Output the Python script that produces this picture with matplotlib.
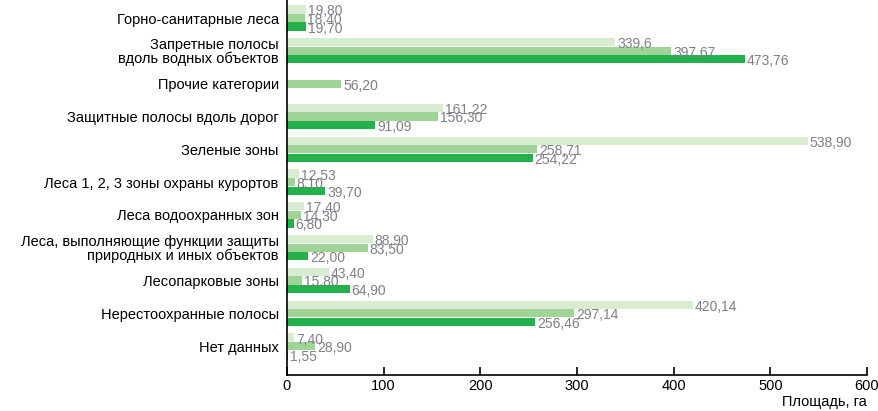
import matplotlib.pyplot as plt
import numpy as np

plt.rcParams['font.family'] = ['Liberation Sans', 'DejaVu Sans']

categories = [
    'Горно-санитарные леса',
    'Запретные полосы\nвдоль водных объектов',
    'Прочие категории',
    'Защитные полосы вдоль дорог',
    'Зеленые зоны',
    'Леса 1, 2, 3 зоны охраны курортов',
    'Леса водоохранных зон',
    'Леса, выполняющие функции защиты\nприродных и иных объектов',
    'Лесопарковые зоны',
    'Нерестоохранные полосы',
    'Нет данных',
]
series_light = [19.80, 339.6, None, 161.22, 538.90, 12.53, 17.40, 88.90, 43.40, 420.14, 7.40]
series_mid = [18.40, 397.67, 56.20, 156.30, 258.71, 8.10, 14.30, 83.50, 15.80, 297.14, 28.90]
series_dark = [19.70, 473.76, None, 91.09, 254.22, 39.70, 6.80, 22.00, 64.90, 256.46, 1.55]

colors = ['#d8ecd2', '#a0d497', '#22b14c']
label_color = '#7f7f86'


def fmt(v):
    if v == 339.6:
        return '339,6'
    return f'{v:.2f}'.replace('.', ',')


fig = plt.figure(figsize=(8.79, 4.11), dpi=100)
ax = fig.add_axes([287 / 879, 36 / 411, 580 / 879, 375 / 411])

y = np.arange(len(categories))
h = 0.25
offsets = [-0.26, 0.0, 0.26]
for series, off, col in zip([series_light, series_mid, series_dark], offsets, colors):
    for yi, v in zip(y, series):
        if v is None:
            continue
        ax.barh(yi + off, v, height=h, color=col)
        ax.text(v + 2, yi + off + 0.06, fmt(v), fontsize=10, color=label_color,
                va='center', ha='left')

ax.set_yticks(y)
ax.set_yticklabels(categories, fontsize=10.5, linespacing=0.95)
ax.tick_params(axis='y', length=0, pad=6)
ax.set_ylim(len(categories) - 1 + 0.88, -0.55)
ax.set_xlim(0, 600)
ax.set_xticks(range(0, 601, 100))
ax.tick_params(axis='x', direction='in', length=6, width=1.2, labelsize=10.5,
               color='black', pad=3)
for side in ['top', 'right']:
    ax.spines[side].set_visible(False)
ax.spines['left'].set_linewidth(1.2)
ax.spines['bottom'].set_linewidth(1.2)

fig.text(867 / 879, 2 / 411, 'Площадь, га', ha='right', va='bottom', fontsize=10.5)

fig.savefig('out.png', dpi=100)
